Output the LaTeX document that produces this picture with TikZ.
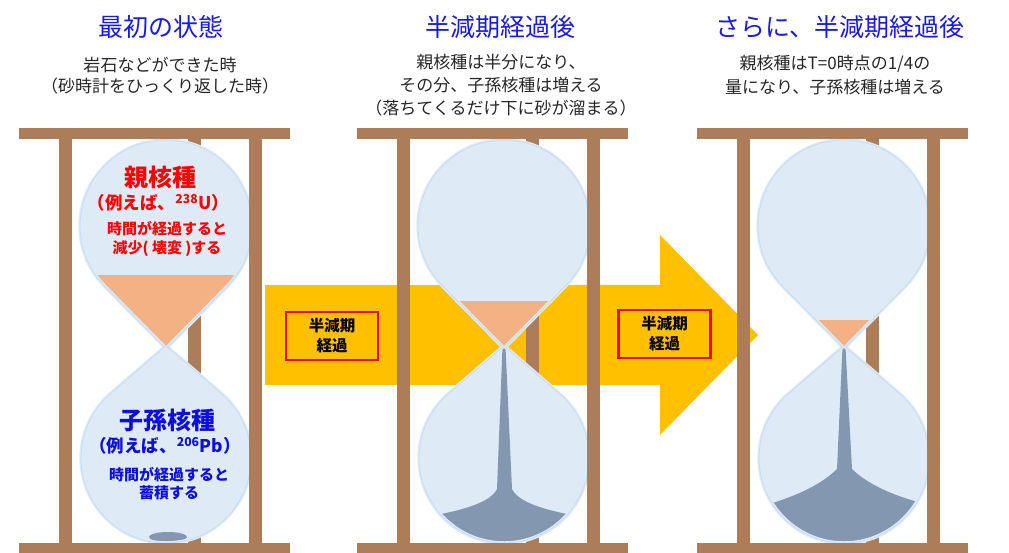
\documentclass[tikz,border=0pt]{standalone}
\usepackage{fontspec}
\setmainfont{Noto Sans CJK JP}

\definecolor{woodbrown}{RGB}{172,125,88}
\definecolor{glassblue}{RGB}{222,235,247}
\definecolor{glassedge}{RGB}{200,220,240}
\definecolor{sandtop}{RGB}{244,177,131}
\definecolor{sandlow}{RGB}{132,151,176}
\definecolor{arrowgold}{RGB}{255,192,0}
\definecolor{titleblue}{RGB}{25,25,235}
\definecolor{childblue}{RGB}{15,15,220}

% glass of one hourglass, x relative to its neck
\newcommand\glassshape{(1.5,347) -- (60.5,287.1) arc[start angle=45.3, end angle=-225.3, radius=86] -- (-1.5,347) -- (-54.6,392.9) arc[start angle=230, end angle=-50, radius=85] -- cycle}
% sand in the lower bulb
\newcommand\pileA{(2,537) ellipse[x radius=19, y radius=5]}
\newcommand\pileB{(-1.5,347) -- (1.5,347) -- (8,489) .. controls (14,501) and (35,510) .. (85,518) -- (85,560) -- (-85,560) -- (-85,518) .. controls (-35,510) and (-13,501) .. (-7,489) -- cycle}
\newcommand\pileC{(-1.5,347) -- (1.5,347) -- (8,469) .. controls (20,481) and (45,496) .. (90,506) -- (90,560) -- (-90,560) -- (-90,508) .. controls (-45,497) and (-20,482) .. (-7,469) -- cycle}

\tikzset{
  wood/.style={fill=woodbrown},
  title/.style={font=\fontsize{25}{30}\selectfont, text=titleblue},
  note/.style={font=\fontsize{17}{#1}\selectfont, align=center, text=black!85},
  halfbox/.style={draw=red, line width=2.5, minimum width=92, minimum height=48,
    align=center, font=\bfseries\fontsize{15.5}{20}\selectfont},
  parent/.style={text=red, align=center, font=\bfseries\fontsize{#1}{19}\selectfont},
  child/.style={text=childblue, align=center, font=\bfseries\fontsize{#1}{18}\selectfont}
}

\begin{document}
\begin{tikzpicture}[x=1pt, y=-1pt]
  \useasboundingbox (0,0) rectangle (1009,553);

  \fill[arrowgold] (265,285) rectangle (560,385);
  \fill[arrowgold] (545,285) -- (660,285) -- (660,235) -- (758,335) -- (660,435) -- (660,385) -- (545,385) -- cycle;

  \foreach \cx/\lvl/\pile in {166/275/\pileA, 504/301/\pileB, 844/320/\pileC}{
    \begin{scope}[shift={(\cx,0)}]
      \fill[wood] (22,139) rectangle (35,543);
      \fill[glassblue] \glassshape;
      \begin{scope}
        \clip \glassshape;
        \fill[sandtop] (-100,\lvl) rectangle (100,347);
        \fill[sandlow] \pile;
      \end{scope}
      \draw[glassblue, line width=3.5] \glassshape;
      \draw[glassedge, line width=0.8] \glassshape;
      \fill[wood] (-107,139) rectangle (-94,543);
      \fill[wood] (83,139) rectangle (96,543);
      \fill[wood] (-147,128) rectangle (124,139);
      \fill[wood] (-147,543) rectangle (124,553);
    \end{scope}
  }

  \node[title] (head1) at (161,27) {最初の状態};
  \node[title] (head2) at (500,27) {半減期経過後};
  \node[title] (head3) at (840,27) {さらに、半減期経過後};

  \node[note=21] (sub1) at (160,75.5) {岩石などができた時\\（砂時計をひっくり返した時）};
  \node[note=23] (sub2) at (501,85) {親核種は半分になり、\\その分、子孫核種は増える\\（落ちてくるだけ下に砂が溜まる）};
  \node[note=24] (sub3) at (835,75) {親核種はT=0時点の1/4の\\量になり、子孫核種は増える};

  \node[halfbox] (lbl1) at (332,336) {半減期\\経過};
  \node[halfbox] (lbl2) at (664.5,334) {半減期\\経過};

  \node[parent=24] (oya) at (160.5,177) {親核種};
  \node[parent=17.5] (oyaex) at (158.5,203) {（例えば、\textsuperscript{238}U）};
  \node[parent=15] (oyanote) at (167,238.5) {時間が経過すると\\減少( 壊変 )する};

  \node[child=24] (ko) at (167.5,420) {子孫核種};
  \node[child=17.5] (koex) at (165,446) {（例えば、\textsuperscript{206}Pb）};
  \node[child=15] (konote) at (169,484) {時間が経過すると\\蓄積する};
\end{tikzpicture}
\end{document}
